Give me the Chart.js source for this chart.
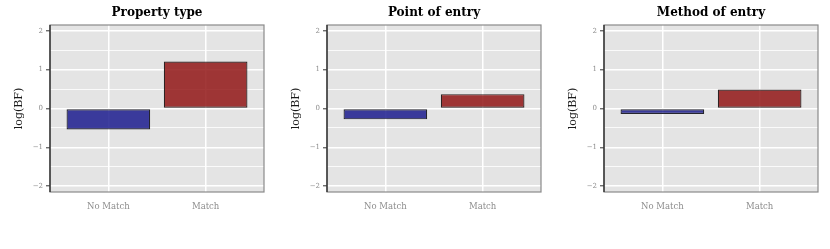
<!DOCTYPE html>
<html>
<head>
<meta charset="utf-8">
<script src="https://cdn.jsdelivr.net/npm/chart.js@4.4.1/dist/chart.umd.min.js"></script>
<style>
  html, body { margin: 0; padding: 0; background: #ffffff; }
  #wrap { display: flex; width: 830px; height: 249px; }
  canvas { display: block; }
</style>
</head>
<body>
<div id="wrap">
  <canvas id="c0" width="277" height="249"></canvas>
  <canvas id="c1" width="277" height="249"></canvas>
  <canvas id="c2" width="276" height="249"></canvas>
</div>
<script>
// ---- data ----
const panelTitles = ["Property type", "Point of entry", "Method of entry"];
const categories = ["No Match", "Match"];
const propertyType = [-0.54, 1.21];
const pointOfEntry = [-0.28, 0.37];
const methodOfEntry = [-0.14, 0.49];
const yTicks = [-2, -1.5, -1, -0.5, 0, 0.5, 1, 1.5, 2];
const yAxisTitle = "log(BF)";

const panelValues = [propertyType, pointOfEntry, methodOfEntry];
const barFill = ["rgba(28,28,142,0.85)", "rgba(146,22,22,0.85)"];
const barEdge = ["rgba(15,15,25,0.9)", "rgba(25,12,12,0.9)"];

const panelPlugin = {
  id: 'panelBg',
  beforeDraw(chart) {
    const a = chart.chartArea, ctx = chart.ctx;
    ctx.save();
    ctx.fillStyle = '#e4e4e4';
    ctx.fillRect(a.left, a.top, a.right - a.left, a.bottom - a.top);
    ctx.restore();
  },
  afterDraw(chart, args, opts) {
    const a = chart.chartArea, ctx = chart.ctx;
    ctx.save();
    ctx.strokeStyle = '#8a8a8a';
    ctx.lineWidth = 1.2;
    ctx.strokeRect(a.left, a.top, a.right - a.left, a.bottom - a.top);
    ctx.strokeStyle = '#1a1a1a';
    ctx.lineWidth = 1.2;
    ctx.beginPath();
    ctx.moveTo(a.left, a.top);
    ctx.lineTo(a.left, a.bottom);
    ctx.stroke();
    // panel title centred over the plot area
    ctx.fillStyle = '#000000';
    ctx.font = 'bold 12px "DejaVu Serif"';
    ctx.textAlign = 'center';
    ctx.textBaseline = 'middle';
    ctx.fillText(opts.text, (a.left + a.right) / 2, 13);
    ctx.restore();
  }
};

function fmt(v) {
  if (!Number.isInteger(v)) return '';
  return v < 0 ? '\u2212' + Math.abs(v) : String(v);
}

panelValues.forEach((vals, i) => {
  const canvas = document.getElementById('c' + i);
  new Chart(canvas, {
    type: 'bar',
    data: {
      datasets: [{
        data: vals.map((v, k) => ({ x: k + 1, y: v })),
        backgroundColor: barFill,
        borderColor: barEdge,
        borderWidth: 1.2,
        borderSkipped: false,
        barPercentage: 0.86,
        categoryPercentage: 1.0
      }]
    },
    options: {
      responsive: false,
      animation: false,
      devicePixelRatio: 1,
      layout: { padding: { left: 0, right: canvas.width - 264, top: 25, bottom: 0 } },
      plugins: {
        legend: { display: false },
        tooltip: { enabled: false },
        title: { display: false },
        panelBg: { text: panelTitles[i] }
      },
      scales: {
        x: {
          type: 'linear',
          offset: false,
          min: 0.4,
          max: 2.6,
          afterBuildTicks(scale) { scale.ticks = categories.map((c, k) => ({ value: k + 1 })); },
          afterFit(scale) { scale.height = 57; },
          ticks: {
            callback: (v) => categories[Math.round(v) - 1] || '',
            color: '#8c8c8c',
            font: { family: 'DejaVu Serif', size: 8.5 },
            padding: 10,
            maxRotation: 0,
            autoSkip: false
          },
          grid: { color: '#ffffff', lineWidth: 1.5, drawTicks: false, offset: false },
          border: { display: false }
        },
        y: {
          type: 'linear',
          min: -2.15,
          max: 2.15,
          afterBuildTicks(scale) { scale.ticks = yTicks.map(v => ({ value: v })); },
          afterFit(scale) { scale.width = 50; },
          title: {
            display: true,
            text: yAxisTitle,
            color: '#1a1a1a',
            font: { family: 'DejaVu Serif', size: 11 },
            padding: { top: 13, bottom: 0 }
          },
          ticks: {
            callback: (v) => fmt(v),
            color: '#8c8c8c',
            font: { family: 'DejaVu Serif', size: 7 },
            padding: 3,
            autoSkip: false
          },
          grid: {
            color: '#ffffff',
            lineWidth: (ctx) => (ctx.tick && Number.isInteger(ctx.tick.value)) ? 1.6 : 0.8,
            tickColor: (ctx) => (ctx.tick && Number.isInteger(ctx.tick.value)) ? '#333333' : 'rgba(0,0,0,0)',
            tickLength: 4,
            tickWidth: 1
          },
          border: { display: false }
        }
      }
    },
    plugins: [panelPlugin]
  });
});
</script>
</body>
</html>
